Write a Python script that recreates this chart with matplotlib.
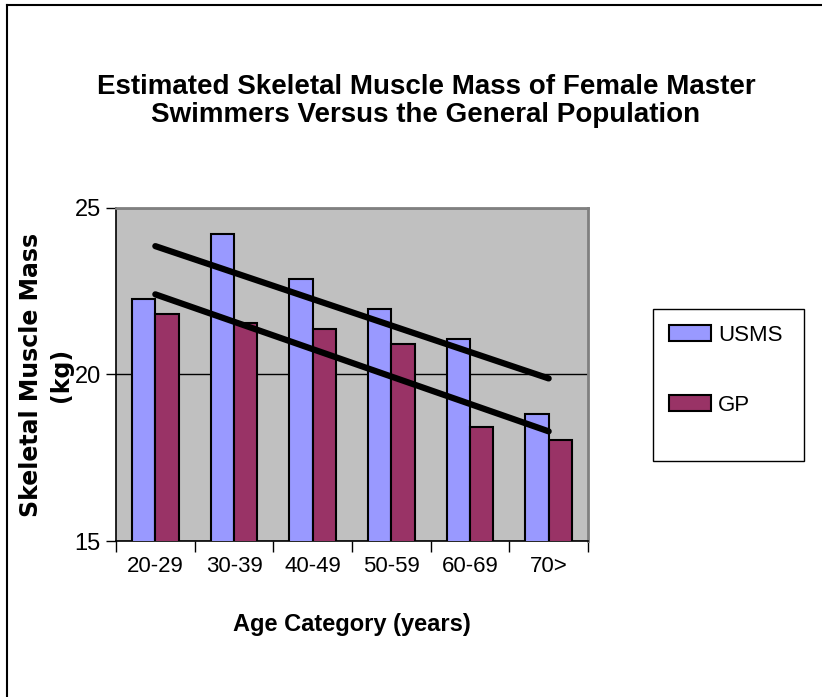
import numpy as np
import matplotlib
matplotlib.use("Agg")
import matplotlib.pyplot as plt
from matplotlib.lines import Line2D
from matplotlib.patches import Rectangle

# data
categories = ["20-29", "30-39", "40-49", "50-59", "60-69", "70>"]
usms = [22.28, 24.23, 22.87, 21.97, 21.06, 18.80]
gp = [21.82, 21.56, 21.36, 20.91, 18.41, 18.04]

narrow = ["Liberation Sans Narrow", "Liberation Sans", "DejaVu Sans"]

W, H = 822, 697
fig = plt.figure(figsize=(W / 100, H / 100), dpi=100)

# plot area in pixels: left 116, right 588, top 208, bottom 541
ax = fig.add_axes([116 / W, 1 - 541 / H, 472 / W, 333 / H])
ax.set_facecolor("#C0C0C0")

x = np.arange(len(categories))
bw = 0.296
ax.bar(x - bw / 2, usms, bw, color="#9999FF", edgecolor="black", linewidth=1.5, label="USMS", zorder=3)
ax.bar(x + bw / 2, gp, bw, color="#993366", edgecolor="black", linewidth=1.5, label="GP", zorder=3)

# linear trend lines
for vals in (usms, gp):
    k, b = np.polyfit(x, vals, 1)
    ax.plot([x[0], x[-1]], [k * x[0] + b, k * x[-1] + b], color="black", lw=4.5, zorder=4,
            solid_capstyle="round")

ax.set_xlim(-0.5, len(categories) - 0.5)
ax.set_ylim(15, 25)
ax.set_yticks([15, 20, 25])
ax.yaxis.grid(True, color="black", lw=1, zorder=1)
ax.set_axisbelow(True)

ax.set_xticks(x)
ax.set_xticklabels(categories, family=narrow, fontsize=16)
ax.set_xticks(np.arange(-0.5, len(categories)), minor=True)
ax.tick_params(axis="x", which="major", length=0, pad=11)
ax.tick_params(axis="x", which="minor", length=8, width=1, direction="out")
ax.tick_params(axis="y", length=7, width=1, direction="out", pad=4)
for t in ax.get_yticklabels():
    t.set_family(narrow)
    t.set_fontsize(17)

for s in ("top", "right"):
    ax.spines[s].set_color("#808080")
    ax.spines[s].set_linewidth(2)
for s in ("left", "bottom"):
    ax.spines[s].set_color("black")
    ax.spines[s].set_linewidth(1.2)

fig.text(426 / W, 1 - 87 / H, "Estimated Skeletal Muscle Mass of Female Master",
         ha="center", va="center", family=narrow, fontsize=20, fontweight="bold")
fig.text(426 / W, 1 - 115 / H, "Swimmers Versus the General Population",
         ha="center", va="center", family=narrow, fontsize=20, fontweight="bold")

fig.text(352 / W, 1 - 625 / H, "Age Category (years)", ha="center", va="center",
         family=narrow, fontsize=17, fontweight="bold")

fig.text(46 / W, 1 - 375 / H, "Skeletal Muscle Mass\n(kg)", ha="center", va="center",
         rotation=90, fontsize=17, fontweight="bold", linespacing=1.3)

# legend box (frame drawn separately, entries sit in its upper part)
fig.add_artist(Rectangle((653 / W, 1 - 461 / H), 151 / W, 152 / H, transform=fig.transFigure,
                         facecolor="white", edgecolor="black", lw=1, zorder=1))
leg = fig.legend(loc="upper left", bbox_to_anchor=(653 / W, 1 - 309 / H),
                 frameon=False, prop={"family": narrow, "size": 16},
                 handlelength=1.9, handleheight=0.7, labelspacing=2.2, borderpad=0.72,
                 handletextpad=0.3, borderaxespad=0)
leg.set_zorder(2)

# outer chart frame (top and left edges visible)
fig.add_artist(Line2D([7 / W, 7 / W], [0, 1 - 5 / H], color="black", lw=1.5))
fig.add_artist(Line2D([7 / W, 1], [1 - 5 / H, 1 - 5 / H], color="black", lw=1.5))

fig.savefig("out.png", dpi=100)
